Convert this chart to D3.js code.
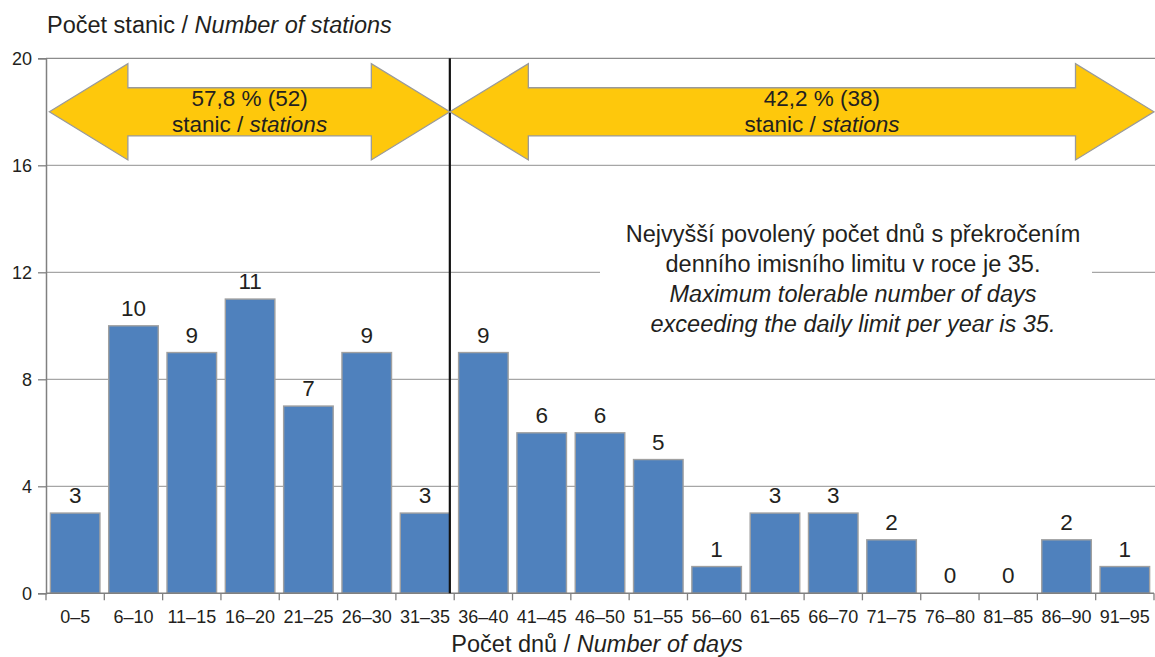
<!DOCTYPE html>
<html><head><meta charset="utf-8">
<script src="https://cdn.jsdelivr.net/npm/d3@7"></script>
<style>
body{margin:0;background:#fff;}
svg{display:block;font-family:"Liberation Sans",Arial,Helvetica,sans-serif;}
</style>
</head><body>
<svg id="chart" width="1155" height="657"></svg>
<script>
// ---- data ----
const categories = ["0–5","6–10","11–15","16–20","21–25","26–30","31–35","36–40","41–45","46–50","51–55","56–60","61–65","66–70","71–75","76–80","81–85","86–90","91–95"];
const values = [3,10,9,11,7,9,3,9,6,6,5,1,3,3,2,0,0,2,1];
const yTicks = [0,4,8,12,16,20];
const limitCategory = "31–35";
const arrowPercents = ["57,8 % (52)","42,2 % (38)"];
const arrowSub = ["stanic / ","stations"];
const noteLinesCz = ["Nejvyšší povolený počet dnů s překročením","denního imisního limitu v roce je 35."];
const noteLinesEn = ["Maximum tolerable number of days","exceeding the daily limit per year is 35."];
const yTitle = ["Počet stanic / ","Number of stations"];
const xTitle = ["Počet dnů / ","Number of days"];

// ---- layout ----
const W = 1155, H = 657;
const mLeft = 46, mRight = 1154, mTop = 58.3, mBottom = 593.3;
const textColor = "#231f20";
const bigFont = 23.5;
const svg = d3.select("#chart");

const x = d3.scaleBand().domain(categories).range([mLeft,mRight]).paddingInner(0.15).paddingOuter(0.075);
const y = d3.scaleLinear().domain([0,20]).range([mBottom,mTop]);
const step = x.step();

// gridlines
svg.append("g").selectAll("line").data(yTicks.filter(d=>d>0)).join("line")
  .attr("x1",mLeft).attr("x2",W).attr("y1",d=>y(d)).attr("y2",d=>y(d))
  .attr("stroke",d=>d===20?"#8c8c8c":"#a6a6a6").attr("stroke-width",1.3);

// white box behind note
svg.append("rect").attr("x",600).attr("y",y(14)).attr("width",492).attr("height",y(9.5)-y(14)).attr("fill","#fff");

// bars
svg.append("g").selectAll("rect").data(values).join("rect")
  .attr("x",(d,i)=>x(categories[i])).attr("width",x.bandwidth())
  .attr("y",d=>y(d)).attr("height",d=>y(0)-y(d))
  .attr("fill","#4f81bd").attr("stroke","#a0a0a0").attr("stroke-width",1.4);

// value labels
svg.append("g").selectAll("text").data(values).join("text")
  .attr("x",(d,i)=>x(categories[i])+x.bandwidth()/2).attr("y",d=>y(d)-10)
  .attr("text-anchor","middle").attr("font-size",22.5).attr("fill",textColor).text(d=>d);

// y axis
const yAxis = d3.axisLeft(y).tickValues(yTicks).tickSize(8).tickPadding(6).tickFormat(d3.format("d"));
const gy = svg.append("g").attr("transform",`translate(${mLeft},0)`).call(yAxis);
gy.select(".domain").attr("stroke","#808080").attr("stroke-width",1.5);
gy.selectAll(".tick line").attr("stroke","#808080").attr("stroke-width",1.3);
gy.selectAll(".tick text").attr("font-size",18).attr("fill",textColor).attr("font-family","Liberation Sans, Arial, sans-serif");

// x axis line
svg.append("line").attr("x1",mLeft).attr("x2",mRight).attr("y1",mBottom).attr("y2",mBottom).attr("stroke","#808080").attr("stroke-width",1.5);
// boundary ticks
const bounds = categories.map(c=>x(c)-step*x.paddingOuter()).concat([mRight]);
svg.append("g").selectAll("line").data(bounds).join("line")
  .attr("x1",d=>d).attr("x2",d=>d).attr("y1",mBottom).attr("y2",mBottom+7)
  .attr("stroke","#808080").attr("stroke-width",1.3);
// x labels
const xAxis = d3.axisBottom(x).tickSize(0).tickPadding(17);
const gx = svg.append("g").attr("transform",`translate(0,${mBottom})`).call(xAxis);
gx.select(".domain").remove();
gx.selectAll(".tick text").attr("font-size",18).attr("fill",textColor).attr("font-family","Liberation Sans, Arial, sans-serif");

// limit line
const limitX = x(limitCategory)+x.bandwidth();
svg.append("line").attr("x1",limitX).attr("x2",limitX).attr("y1",mTop).attr("y2",mBottom)
  .attr("stroke","#111").attr("stroke-width",2.2);

// arrows
function arrowPoints(x0,x1){
  const h=78.5, yc=y(18), hh=y(16.2)-yc, sh=y(17.1)-yc;
  return [[x0,yc],[x0+h,yc-hh],[x0+h,yc-sh],[x1-h,yc-sh],[x1-h,yc-hh],[x1,yc],[x1-h,yc+hh],[x1-h,yc+sh],[x0+h,yc+sh],[x0+h,yc+hh]];
}
const arrows = [
  {x0:x(categories[0])-1, x1:limitX, lab:arrowPercents[0], off:0},
  {x0:limitX, x1:mRight, lab:arrowPercents[1], off:20}
];
arrows.forEach(a=>{
  svg.append("polygon").attr("points",arrowPoints(a.x0,a.x1).map(p=>p.join(",")).join(" "))
    .attr("fill","#fec80c").attr("stroke","#9a9a9a").attr("stroke-width",1.3);
  const cx=(a.x0+a.x1)/2+a.off;
  svg.append("text").attr("x",cx).attr("y",y(18)-5.5).attr("text-anchor","middle")
    .attr("font-size",22.5).attr("fill",textColor).text(a.lab);
  const t=svg.append("text").attr("x",cx).attr("y",y(18)+20).attr("text-anchor","middle")
    .attr("font-size",22.5).attr("fill",textColor);
  t.append("tspan").text(arrowSub[0]);
  t.append("tspan").attr("font-style","italic").text(arrowSub[1]);
});

// note
const nt = svg.append("g").attr("font-size",bigFont).attr("fill",textColor).attr("text-anchor","middle");
noteLinesCz.forEach((s,i)=>nt.append("text").attr("x",853).attr("y",242+i*30).text(s));
noteLinesEn.forEach((s,i)=>nt.append("text").attr("x",853).attr("y",302+i*30).attr("font-style","italic").text(s));

// titles
const ty = svg.append("text").attr("x",47).attr("y",33).attr("font-size",bigFont).attr("fill",textColor);
ty.append("tspan").text(yTitle[0]);
ty.append("tspan").attr("font-style","italic").text(yTitle[1]);
const tx = svg.append("text").attr("x",(mLeft+mRight)/2-3).attr("y",652).attr("text-anchor","middle").attr("font-size",bigFont).attr("fill",textColor);
tx.append("tspan").text(xTitle[0]);
tx.append("tspan").attr("font-style","italic").text(xTitle[1]);
</script>
</body></html>
